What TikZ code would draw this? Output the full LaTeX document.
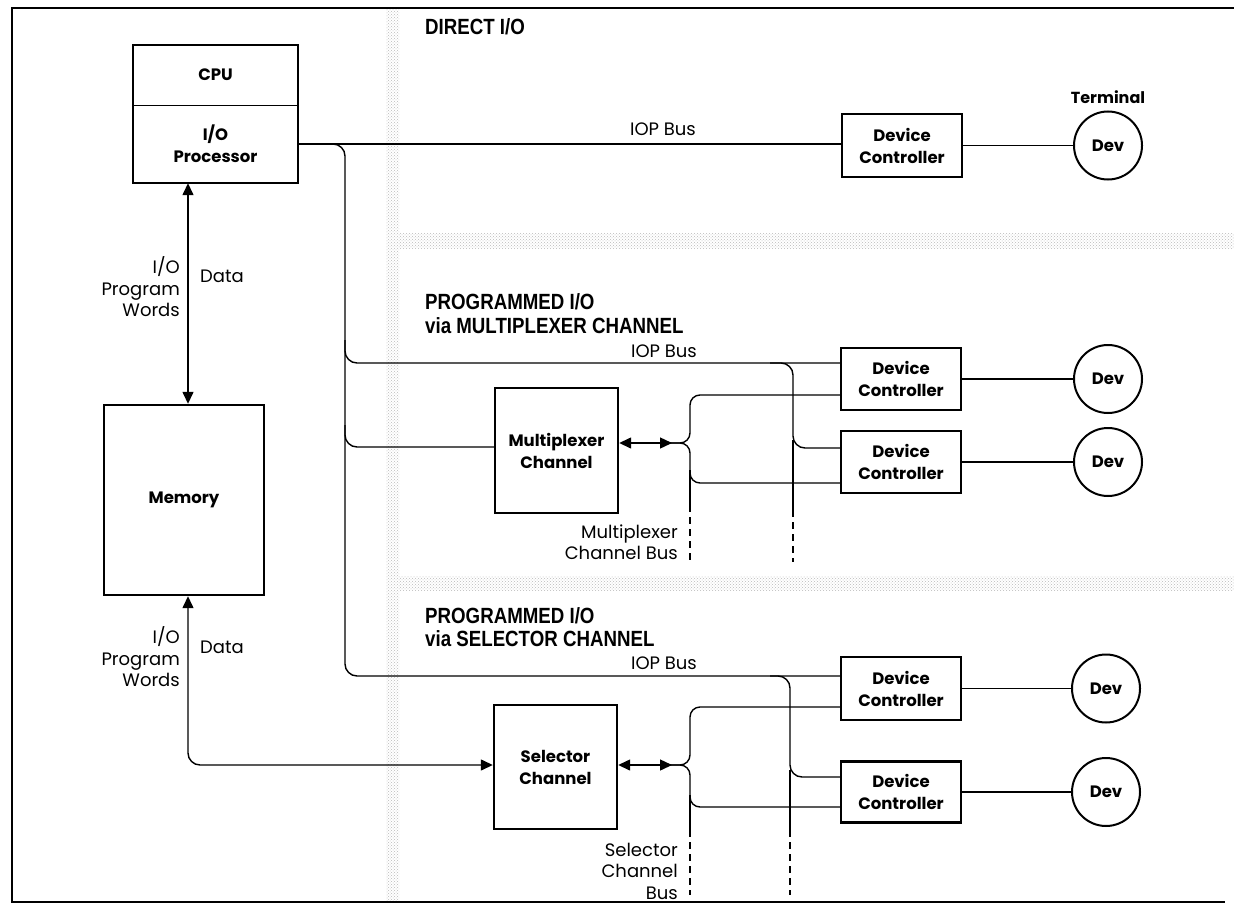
\documentclass[tikz,border=0pt]{standalone}
\usepackage{fontspec}
\setmainfont{Poppins}
\newfontfamily\titlefont{Liberation Sans}[FakeStretch=0.85]
\usetikzlibrary{arrows.meta,patterns}
\begin{document}
\begin{tikzpicture}[x=1pt,y=-1pt,
  box/.style={draw,line width=2.4pt,font=\bfseries\fontsize{16.5}{22}\selectfont,align=center,inner sep=0pt},
  devc/.style={circle,draw,line width=2pt,minimum size=68pt,inner sep=0pt,font=\bfseries\fontsize{16.5}{20}\selectfont},
  bus/.style={line width=1.4pt},
  dbl/.style={bus,{Triangle[length=12pt,width=11pt]}-{Triangle[length=12pt,width=11pt]}},
  lbl/.style={font=\fontsize{18}{21.5}\selectfont,inner sep=0pt},
  ttl/.style={font=\titlefont\bfseries\fontsize{22}{24}\selectfont,anchor=west,inner sep=0pt},
  band/.style={pattern=crosshatch dots,pattern color=gray!55}]
\useasboundingbox (0,0) rectangle (1234,907);
% shaded bands
\fill[band] (386,10) rectangle (399,900);
\fill[band] (399,233) rectangle (1234,248);
\fill[band] (399,576) rectangle (1234,590);
% frame
\draw[line width=2.6pt] (1234,8) -- (12,8) -- (12,902) -- (1225,902);

% CPU
\node[inner sep=0pt,minimum width=165pt,minimum height=60pt,font=\bfseries\fontsize{16.5}{22}\selectfont] (cpu) at (215.5,75) {CPU};
\node[inner sep=0pt,minimum width=165pt,minimum height=78pt,align=center,font=\bfseries\fontsize{16.5}{22}\selectfont] (iop) at (215.5,144) {I/O\\Processor};
\draw[line width=2.4pt] (cpu.north west) rectangle (iop.south east);
\draw[line width=1.2pt] (cpu.south west) -- (cpu.south east);
% Memory
\node[box,minimum width=160pt,minimum height=190pt] (mem) at (184,500) {Memory};
% Channels
\node[box,minimum width=123pt,minimum height=125pt] (mux) at (556.5,450.5) {Multiplexer\\Channel};
\node[box,minimum width=123pt,minimum height=124pt] (sel) at (555.5,767) {Selector\\Channel};
% Device controllers
\node[box,minimum width=120pt,minimum height=63pt] (dDC) at (902,145.5) {Device\\Controller};
\node[box,minimum width=120pt,minimum height=62pt] (mDC1) at (901,379) {Device\\Controller};
\node[box,minimum width=120pt,minimum height=62pt] (mDC2) at (901,462) {Device\\Controller};
\node[box,minimum width=120pt,minimum height=63pt] (sDC1) at (901,688.5) {Device\\Controller};
\node[box,minimum width=120pt,minimum height=61pt] (sDC2) at (901,792) {Device\\Controller};
% Devices
\node[devc] (dDev) at (1108,145.5) {Dev};
\node[devc] (mDev1) at (1108,379) {Dev};
\node[devc] (mDev2) at (1108,462) {Dev};
\node[devc] (sDev1) at (1106,688.5) {Dev};
\node[devc] (sDev2) at (1106,792) {Dev};
\node[font=\bfseries\fontsize{16}{20}\selectfont,inner sep=0pt] (term) at (1108,97) {Terminal};

% Titles
\node[ttl] (t1) at (425,27) {DIRECT I/O};
\node[ttl] (t2) at (425,302) {PROGRAMMED I/O};
\node[ttl] (t3) at (425,326) {via MULTIPLEXER CHANNEL};
\node[ttl] (t4) at (425,616) {PROGRAMMED I/O};
\node[ttl] (t5) at (425,639) {via SELECTOR CHANNEL};

% Bus labels
\node[lbl] (b1) at (663,129) {IOP Bus};
\node[lbl] (b2) at (664,351) {IOP Bus};
\node[lbl] (b3) at (664,663) {IOP Bus};
\node[lbl,align=right,anchor=east] (mb) at (678,542) {Multiplexer\\Channel Bus};
\node[lbl,align=right,anchor=east] (sb) at (678,871) {Selector\\Channel\\Bus};
\node[lbl,align=right,anchor=east] (w1) at (180,287) {I/O\\Program\\Words};
\node[lbl,anchor=west] (d1) at (200,276) {Data};
\node[lbl,align=right,anchor=east] (w2) at (180,657) {I/O\\Program\\Words};
\node[lbl,anchor=west] (d2) at (200,647) {Data};

% Direct I/O
\draw[bus] (iop.east) -- (iop.east -| dDC.west);
\draw[bus] (dDC.east) -- (dDev.west);
% trunk
\draw[bus,rounded corners=12pt] (iop.east) -- (345,144) -- (345,676) -- (sDC1.west |- 0,676);
\draw[bus,rounded corners=12pt] (345,340) -- (345,363) -- (mDC1.west |- 0,363);
\draw[bus,rounded corners=12pt] (345,425) -- (345,447) -- (mux.west |- 0,447);
% memory arrows
\draw[dbl] (mem.north -| 188,0) -- (iop.south -| 188,0);
\draw[dbl,rounded corners=12pt] (mem.south -| 188,0) -- (188,765) -- (sel.west |- 0,765);

% multiplexer section
\draw[bus,rounded corners=12pt] (770,363) -- (793,363) -- (793,448) -- (mDC2.west |- 0,448);
\draw[bus] (793,440) -- (793,510);
\draw[bus,dashed,dash pattern=on 7pt off 5pt] (793,510) -- (793,562);
\draw[dbl] (mux.east |- 0,443) -- (672,443);
\draw[bus,rounded corners=10pt] (668,443) -- (690,443) -- (690,395) -- (mDC1.west |- 0,395);
\draw[bus,rounded corners=10pt] (668,443) -- (690,443) -- (690,483) -- (mDC2.west |- 0,483);
\draw[bus] (690,470) -- (690,505);
\draw[bus,dashed,dash pattern=on 7pt off 5pt] (690,505) -- (690,560);
\draw[bus] (mDC1.east) -- (mDev1.west);
\draw[bus] (mDC2.east) -- (mDev2.west);

% selector section
\draw[bus,rounded corners=12pt] (770,676) -- (790,676) -- (790,777) -- (sDC2.west |- 0,777);
\draw[bus] (790,770) -- (790,830);
\draw[bus,dashed,dash pattern=on 7pt off 5pt] (790,830) -- (790,895);
\draw[dbl] (sel.east |- 0,765) -- (672,765);
\draw[bus,rounded corners=10pt] (668,765) -- (690,765) -- (690,707) -- (sDC1.west |- 0,707);
\draw[bus,rounded corners=10pt] (668,765) -- (690,765) -- (690,807) -- (sDC2.west |- 0,807);
\draw[bus] (690,795) -- (690,830);
\draw[bus,dashed,dash pattern=on 7pt off 5pt] (690,830) -- (690,895);
\draw[bus] (sDC1.east) -- (sDev1.west);
\draw[bus] (sDC2.east) -- (sDev2.west);
\end{tikzpicture}
\end{document}
